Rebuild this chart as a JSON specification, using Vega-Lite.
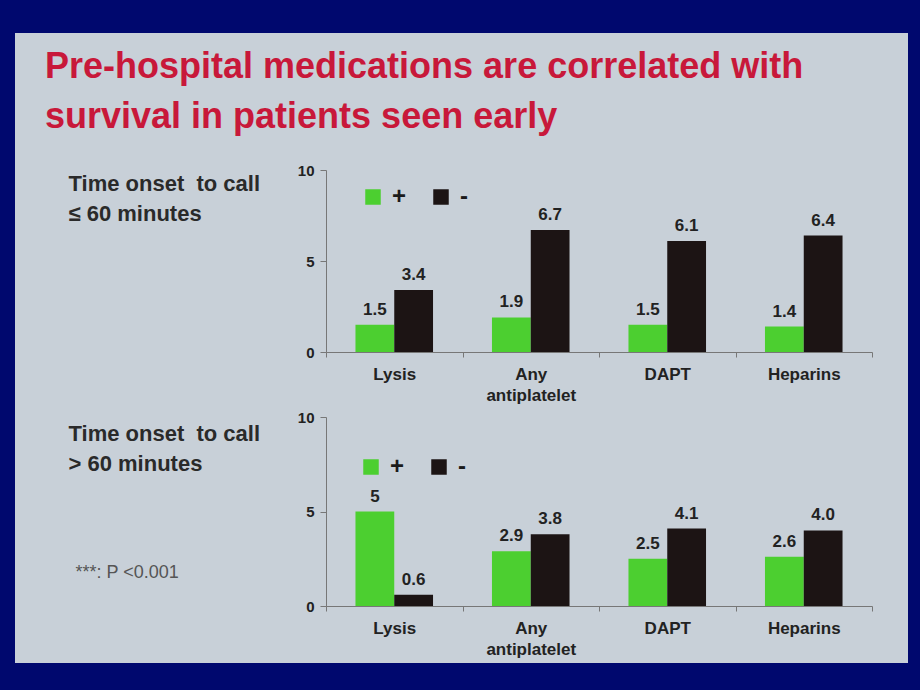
{
  "$schema": "https://vega.github.io/schema/vega-lite/v6.json",
  "width": 893,
  "height": 630,
  "autosize": "none",
  "padding": {"left": 15, "top": 33, "right": 12, "bottom": 27},
  "background": "#00086e",
  "view": {"fill": "#c8d0d8", "stroke": null},
  "config": {
    "font": "Liberation Sans",
    "axis": {"grid": false, "labelFlush": false, "labelOverlap": false}
  },
  "title": {
    "text": ["Pre-hospital medications are correlated with", "survival in patients seen early"],
    "anchor": "start",
    "frame": "group",
    "orient": "top",
    "offset": -87,
    "dx": 30,
    "dy": 44,
    "baseline": "alphabetic",
    "font": "Liberation Sans",
    "fontSize": 36,
    "fontWeight": "bold",
    "color": "#c8183a",
    "lineHeight": 50
  },
  "data": {
    "values": [
      {"panel": 1, "med": "Lysis", "grp": "+", "value": 1.5, "label": "1.5"},
      {"panel": 1, "med": "Lysis", "grp": "-", "value": 3.4, "label": "3.4"},
      {"panel": 1, "med": "Any antiplatelet", "grp": "+", "value": 1.9, "label": "1.9"},
      {"panel": 1, "med": "Any antiplatelet", "grp": "-", "value": 6.7, "label": "6.7"},
      {"panel": 1, "med": "DAPT", "grp": "+", "value": 1.5, "label": "1.5"},
      {"panel": 1, "med": "DAPT", "grp": "-", "value": 6.1, "label": "6.1"},
      {"panel": 1, "med": "Heparins", "grp": "+", "value": 1.4, "label": "1.4"},
      {"panel": 1, "med": "Heparins", "grp": "-", "value": 6.4, "label": "6.4"},
      {"panel": 2, "med": "Lysis", "grp": "+", "value": 5.0, "label": "5"},
      {"panel": 2, "med": "Lysis", "grp": "-", "value": 0.6, "label": "0.6"},
      {"panel": 2, "med": "Any antiplatelet", "grp": "+", "value": 2.9, "label": "2.9"},
      {"panel": 2, "med": "Any antiplatelet", "grp": "-", "value": 3.8, "label": "3.8"},
      {"panel": 2, "med": "DAPT", "grp": "+", "value": 2.5, "label": "2.5"},
      {"panel": 2, "med": "DAPT", "grp": "-", "value": 4.1, "label": "4.1"},
      {"panel": 2, "med": "Heparins", "grp": "+", "value": 2.6, "label": "2.6"},
      {"panel": 2, "med": "Heparins", "grp": "-", "value": 4.0, "label": "4.0"}
    ]
  },
  "layer": [
    {
      "transform": [{"filter": "datum.panel == 1"}],
      "encoding": {
        "x": {
          "field": "med", "type": "nominal",
          "sort": ["Lysis", "Any antiplatelet", "DAPT", "Heparins"],
          "scale": {"range": [311, 857], "paddingInner": 0, "paddingOuter": 0},
          "axis": {
            "orient": "bottom", "offset": -311, "title": null,
            "tickBand": "extent", "tickSize": 5, "labelPadding": 9,
            "labelFontSize": 17, "labelFontWeight": "bold", "labelColor": "#222222",
            "labelAngle": 0, "labelLineHeight": 21,
            "labelExpr": "datum.value == 'Any antiplatelet' ? ['Any', 'antiplatelet'] : datum.value",
            "domainColor": "#777777", "tickColor": "#777777"
          }
        },
        "xOffset": {"field": "grp", "type": "nominal", "sort": ["+", "-"], "scale": {"paddingInner": 0, "paddingOuter": 0.76}},
        "y": {
          "field": "value", "type": "quantitative",
          "scale": {"domain": [0, 10], "range": [319, 137], "nice": false},
          "axis": {
            "orient": "left", "offset": -311, "values": [0, 5, 10],
            "tickSize": 6, "labelPadding": 6,
            "labelFontSize": 15, "labelFontWeight": "bold", "labelColor": "#222222",
            "domainColor": "#777777", "tickColor": "#777777",
            "title": ["Time onset\u00a0 to call", "≤ 60 minutes"],
            "titleX": -258, "titleY": 157, "titleAngle": 0, "titleAlign": "left",
            "titleBaseline": "alphabetic", "titleFontSize": 22, "titleFontWeight": "bold",
            "titleColor": "#2a2a2a", "titleLineHeight": 30
          }
        }
      },
      "layer": [
        {
          "mark": {"type": "bar"},
          "encoding": {
            "color": {
              "field": "grp", "type": "nominal",
              "scale": {"domain": ["+", "-"], "range": ["#4ccf30", "#1c1414"]},
              "legend": {
                "orient": "none", "legendX": 346, "legendY": 152, "direction": "horizontal",
                "columns": 2, "title": null, "symbolType": "square", "symbolSize": 240,
                "symbolStrokeWidth": 0, "labelFontSize": 24, "labelFontWeight": "bold",
                "labelColor": "#1a1a1a", "labelOffset": 7, "columnPadding": 22,
                "labelExpr": "datum.label == '-' ? '\u00a0\u00a0-' : datum.label"
              }
            }
          }
        },
        {
          "mark": {"type": "text", "baseline": "alphabetic", "dy": -10, "fontSize": 17, "fontWeight": "bold", "color": "#222222"},
          "encoding": {"text": {"field": "label"}}
        }
      ]
    },
    {
      "transform": [{"filter": "datum.panel == 2"}],
      "encoding": {
        "x": {
          "field": "med", "type": "nominal",
          "sort": ["Lysis", "Any antiplatelet", "DAPT", "Heparins"],
          "scale": {"range": [311, 857], "paddingInner": 0, "paddingOuter": 0},
          "axis": {
            "orient": "bottom", "offset": -57,
            "title": "***: P <0.001", "titleX": 60, "titleY": -29, "titleAlign": "left",
            "titleAnchor": "start", "titleBaseline": "alphabetic", "titleFontSize": 18,
            "titleFontWeight": "normal", "titleColor": "#555555",
            "tickBand": "extent", "tickSize": 5, "labelPadding": 9,
            "labelFontSize": 17, "labelFontWeight": "bold", "labelColor": "#222222",
            "labelAngle": 0, "labelLineHeight": 21,
            "labelExpr": "datum.value == 'Any antiplatelet' ? ['Any', 'antiplatelet'] : datum.value",
            "domainColor": "#777777", "tickColor": "#777777"
          }
        },
        "xOffset": {"field": "grp", "type": "nominal", "sort": ["+", "-"], "scale": {"paddingInner": 0, "paddingOuter": 0.76}},
        "y": {
          "field": "value", "type": "quantitative",
          "scale": {"domain": [0, 10], "range": [573, 384], "nice": false},
          "axis": {
            "orient": "left", "offset": -311, "values": [0, 5, 10],
            "tickSize": 6, "labelPadding": 6,
            "labelFontSize": 15, "labelFontWeight": "bold", "labelColor": "#222222",
            "domainColor": "#777777", "tickColor": "#777777",
            "title": ["Time onset\u00a0 to call", "> 60 minutes"],
            "titleX": -258, "titleY": 407, "titleAngle": 0, "titleAlign": "left",
            "titleBaseline": "alphabetic", "titleFontSize": 22, "titleFontWeight": "bold",
            "titleColor": "#2a2a2a", "titleLineHeight": 30
          }
        }
      },
      "layer": [
        {
          "mark": {"type": "bar"},
          "encoding": {
            "color": {
              "field": "grp", "type": "nominal",
              "scale": {"domain": ["+", "-"], "range": ["#4ccf30", "#1c1414"]},
              "legend": {
                "orient": "none", "legendX": 344, "legendY": 422, "direction": "horizontal",
                "columns": 2, "title": null, "symbolType": "square", "symbolSize": 240,
                "symbolStrokeWidth": 0, "labelFontSize": 24, "labelFontWeight": "bold",
                "labelColor": "#1a1a1a", "labelOffset": 7, "columnPadding": 22,
                "labelExpr": "datum.label == '-' ? '\u00a0\u00a0-' : datum.label"
              }
            }
          }
        },
        {
          "mark": {"type": "text", "baseline": "alphabetic", "dy": -10, "fontSize": 17, "fontWeight": "bold", "color": "#222222"},
          "encoding": {"text": {"field": "label"}}
        }
      ]
    }
  ],
  "resolve": {
    "scale": {"x": "independent", "y": "independent", "xOffset": "independent", "color": "independent"},
    "axis": {"x": "independent", "y": "independent"},
    "legend": {"color": "independent"}
  }
}
